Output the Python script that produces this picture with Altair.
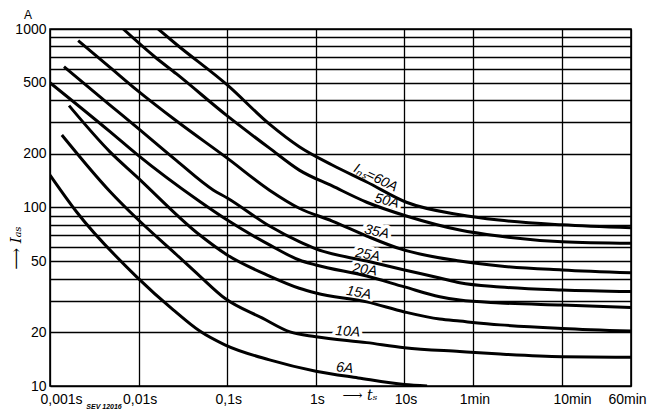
import altair as alt
import pandas as pd

# ---- data: time t (s) vs. current I (A) per fuse rating ----
t_60 = [0.0166, 0.0268, 0.1, 0.3, 0.65, 1.53, 3.75, 10.5, 42, 116, 600, 3600]
i_60 = [1000, 819, 486, 293, 219, 173, 139, 107, 91, 85, 80, 77]

t_50 = [0.0067, 0.0153, 0.0268, 0.1, 0.3, 0.65, 1.53, 3.75, 10.5, 42, 116, 600, 3600]
i_50 = [1000, 697, 560, 326, 215, 162, 132, 107, 89.6, 74.8, 69.2, 64.3, 63.0]

t_35 = [0.00208, 0.00475, 0.0095, 0.0268, 0.1, 0.3, 0.65, 1.53, 3.75, 9, 42, 120, 600, 3600]
i_35 = [860, 610, 456, 305, 189, 125, 99, 84, 69.2, 58.6, 50.1, 47.0, 44.7, 43.1]

t_25 = [0.00144, 0.00475, 0.0095, 0.0268, 0.07, 0.1, 0.3, 0.65, 1, 3.75, 10, 25, 42, 120, 600, 3600]
i_25 = [615, 375, 282, 183, 125, 113, 78.7, 64.3, 58.6, 50.1, 44.7, 40.3, 37.9, 35.9, 34.5, 33.8]

t_20 = [0.001, 0.00475, 0.0095, 0.049, 0.1, 0.3, 0.65, 1, 3.75, 10, 25, 42, 120, 600, 3600]
i_20 = [500, 266, 199, 108, 85, 61.7, 50.8, 47.6, 41.3, 35.9, 31.6, 30.3, 29.2, 28.4, 27.5]

t_15 = [0.00164, 0.00475, 0.0095, 0.049, 0.1, 0.3, 0.65, 1, 3.75, 10, 25, 42, 120, 600, 3600]
i_15 = [372, 205, 149, 70.1, 54.2, 41.3, 35.3, 33.2, 29.6, 26.0, 23.7, 23.1, 22.0, 21.0, 20.3]

t_10 = [0.00136, 0.00475, 0.0095, 0.027, 0.049, 0.094, 0.25, 0.51, 1, 3.75, 10, 42, 120, 600, 3600]
i_10 = [255, 123, 87, 54.2, 41.3, 31.0, 24.0, 20.1, 18.9, 17.5, 16.4, 15.6, 15.1, 14.6, 14.5]

t_6 = [0.001, 0.002, 0.0095, 0.0246, 0.049, 0.094, 0.3, 1, 3, 10, 18]
i_6 = [152, 94.4, 40.9, 26.7, 20.3, 17.0, 14.0, 12.1, 11.1, 10.2, 10.0]

series_names = ["60A", "50A", "35A", "25A", "20A", "15A", "10A", "6A"]
series_t = [t_60, t_50, t_35, t_25, t_20, t_15, t_10, t_6]
series_i = [i_60, i_50, i_35, i_25, i_20, i_15, i_10, i_6]

# curve labels (anchor in data coordinates)
label_text = ["Iₙₛ=60A", "50A", "35A", "25A", "20A", "15A", "10A", "6A"]
label_t = [4.73, 6.30, 4.86, 3.85, 3.56, 3.05, 2.29, 2.12]
label_i = [146.3, 108.7, 72.9, 54.2, 44.7, 33.2, 20.1, 12.6]
label_angle = [26, 14, 12, 10, 8, 10, 4, 6]

# axis ticks
x_tick_values = [0.001, 0.01, 0.1, 1, 10, 60, 600, 3600]
x_tick_labels = ["0,001s", "0,01s", "0,1s", "1s", "10s", "1min", "10min", "60min"]
y_grid_values = [10, 20, 30, 40, 50, 60, 70, 80, 90, 100,
                 200, 300, 400, 500, 600, 700, 800, 900, 1000]
y_label_values = [10, 20, 50, 100, 200, 500, 1000]

rows = []
for name, ts, iss in zip(series_names, series_t, series_i):
    for t, i in zip(ts, iss):
        rows.append({"fuse": name, "t": t, "I": i})
curves = pd.DataFrame(rows)

labels = pd.DataFrame({"text": label_text, "t": label_t, "I": label_i, "angle": label_angle})

# label expression for x axis built from the tick lists
expr = "'" + x_tick_labels[-1] + "'"
for k in range(len(x_tick_values) - 2, -1, -1):
    thr = (x_tick_values[k] * x_tick_values[k + 1]) ** 0.5
    expr = f"datum.value < {thr} ? '{x_tick_labels[k]}' : ({expr})"

y_expr = "indexof(" + str(y_label_values) + ", datum.value) >= 0 ? format(datum.value, 'd') : ''"

FONT = "Liberation Sans"

xscale = alt.Scale(type="log", domain=[0.001, 3600], nice=False)
yscale = alt.Scale(type="log", domain=[10, 1000], nice=False)

x_axis = alt.Axis(values=x_tick_values, labelExpr=expr, grid=True, gridColor="black",
                  gridWidth=1.3, gridOpacity=1, ticks=False, domain=False,
                  labelFont=FONT, labelFontSize=14, labelColor="black",
                  labelPadding=6, labelOverlap=False, labelFlush=False, title=None,
                  labelOffset={"expr": "datum.value < 0.002 ? 11 : (datum.value > 300 && datum.value < 1000 ? 10 : (datum.value > 2000 ? -4 : 1))"})
y_axis = alt.Axis(values=y_grid_values, labelExpr=y_expr, grid=True, gridColor="black",
                  gridWidth=1.3, gridOpacity=1, ticks=False, domain=False,
                  labelFont=FONT, labelFontSize=14, labelColor="black",
                  labelPadding=4, labelOverlap=False, title=None)

base = alt.Chart(curves)

lines = base.mark_line(color="black", strokeWidth=3, interpolate="monotone", clip=True).encode(
    x=alt.X("t:Q", scale=xscale, axis=x_axis),
    y=alt.Y("I:Q", scale=yscale, axis=y_axis),
    detail="fuse:N",
)

halo = alt.Chart(labels).mark_text(font=FONT, fontSize=14, fontStyle="italic",
                                   fill="white", stroke="white", strokeWidth=7,
                                   strokeJoin="round").encode(
    x=alt.X("t:Q", scale=xscale), y=alt.Y("I:Q", scale=yscale),
    text="text:N", angle=alt.Angle("angle:Q", scale=None))

label_marks = alt.Chart(labels).mark_text(font=FONT, fontSize=14, fontStyle="italic",
                                          color="black").encode(
    x=alt.X("t:Q", scale=xscale), y=alt.Y("I:Q", scale=yscale),
    text="text:N", angle=alt.Angle("angle:Q", scale=None))

one = pd.DataFrame({"k": [0]})
unit_a = alt.Chart(one).mark_text(font=FONT, fontSize=12, color="black", align="center",
                                  baseline="alphabetic").encode(
    x=alt.value(-22), y=alt.value(-10), text=alt.value("A"))
y_title = alt.Chart(one).mark_text(font="DejaVu Serif", fontSize=15, fontStyle="italic",
                                   color="black", angle=270, align="center",
                                   baseline="middle").encode(
    x=alt.value(-34), y=alt.value(219), text=alt.value("⟶ Iₐₛ"))
x_title = alt.Chart(one).mark_text(font="DejaVu Serif", fontSize=14, fontStyle="italic",
                                   color="black", align="center",
                                   baseline="alphabetic").encode(
    x=alt.value(310), y=alt.value(371), text=alt.value("⟶ tₛ"))
sev = alt.Chart(one).mark_text(font=FONT, fontSize=7, fontStyle="italic", fontWeight="bold",
                               color="black", align="center", baseline="alphabetic").encode(
    x=alt.value(54), y=alt.value(380), text=alt.value("SEV 12016"))

chart = alt.layer(halo, lines, label_marks, unit_a, y_title, x_title, sev).properties(
    width=581, height=357,
    autosize=alt.AutoSizeParams(type="none"),
    padding={"left": 42, "top": 21, "right": 20, "bottom": 24},
    background="white",
).configure_view(stroke="black", strokeWidth=1.6)

chart.save("out.html", embed_options={"renderer": "svg", "actions": False})
